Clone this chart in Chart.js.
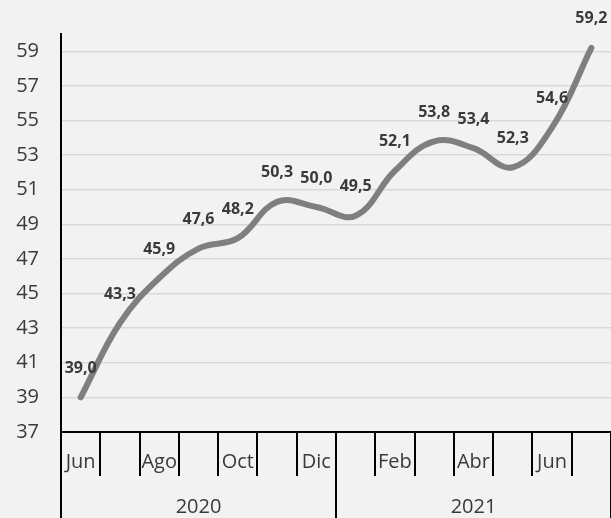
<!DOCTYPE html>
<html lang="es">
<head>
    <meta charset="UTF-8">
    <title>Serie mensual</title>
    <script src="https://cdn.jsdelivr.net/npm/chart.js"></script>
    <style>
        html, body { margin: 0; padding: 0; background: #f2f2f2; }
        .wrap { width: 611px; height: 518px; }
    </style>
</head>
<body>
<div class="wrap">
    <canvas id="grafico"></canvas>
</div>

<script>
    const meses = ['Jun', 'Jul', 'Ago', 'Sep', 'Oct', 'Nov', 'Dic', 'Ene', 'Feb', 'Mar', 'Abr', 'May', 'Jun', 'Jul'];
    const anios = ['2020', '2021'];
    const valores = [39.0, 43.3, 45.9, 47.6, 48.2, 50.3, 50.0, 49.5, 52.1, 53.8, 53.4, 52.3, 54.6, 59.2];
    const ticksY = [37, 39, 41, 43, 45, 47, 49, 51, 53, 55, 57, 59];

    const fuente = '"Open Sans", "DejaVu Sans", sans-serif';
    const gris = '#3a3a3a';

    // etiquetas de valor encima de cada punto
    const etiquetas = {
        id: 'etiquetas',
        afterDatasetsDraw(chart) {
            const ctx = chart.ctx;
            const meta = chart.getDatasetMeta(0);
            ctx.save();
            ctx.font = 'bold 16px ' + fuente;
            ctx.fillStyle = gris;
            ctx.textAlign = 'center';
            ctx.textBaseline = 'middle';
            meta.data.forEach((p, i) => {
                const txt = valores[i].toFixed(1).replace('.', ',');
                ctx.fillText(txt, p.x, p.y - 29);
            });
            ctx.restore();
        }
    };

    new Chart(document.getElementById('grafico'), {
        type: 'line',
        data: {
            labels: meses,
            datasets: [{
                data: valores,
                borderColor: '#7f7f7f',
                borderWidth: 6,
                borderCapStyle: 'round',
                tension: 0.4,
                pointRadius: 0,
                fill: false,
                clip: false
            }]
        },
        options: {
            responsive: true,
            maintainAspectRatio: false,
            animation: false,
            layout: { padding: { top: 31, right: 0, left: 0, bottom: 0 } },
            plugins: { legend: { display: false }, tooltip: { enabled: false } },
            scales: {
                x: {
                    type: 'category',
                    position: 'bottom',
                    offset: true,
                    grid: {
                        offset: true,
                        drawOnChartArea: false,
                        drawTicks: true,
                        tickLength: 44,
                        color: '#000',
                        lineWidth: 2
                    },
                    border: { color: '#000', width: 2 },
                    ticks: {
                        autoSkip: false,
                        maxRotation: 0,
                        padding: -26,
                        color: gris,
                        font: { family: fuente, size: 20 },
                        callback: (v, i) => (i % 2 === 0 ? meses[i] : '')
                    },
                    afterFit: (s) => { s.height = 44; }
                },
                x2: {
                    type: 'category',
                    position: 'bottom',
                    labels: anios,
                    offset: true,
                    grid: {
                        offset: true,
                        drawOnChartArea: false,
                        drawTicks: true,
                        tickLength: 44,
                        color: '#000',
                        lineWidth: 2
                    },
                    border: { display: false },
                    ticks: {
                        maxRotation: 0,
                        padding: -25,
                        color: gris,
                        font: { family: fuente, size: 20 }
                    },
                    afterFit: (s) => { s.height = 42; }
                },
                y: {
                    min: 37,
                    max: 60,
                    afterBuildTicks: (s) => { s.ticks = ticksY.map(v => ({ value: v })); },
                    grid: { color: '#d9d9d9', lineWidth: 1.5, drawTicks: false },
                    border: { color: '#000', width: 2 },
                    ticks: {
                        padding: 22,
                        color: gris,
                        font: { family: fuente, size: 20 }
                    },
                    afterFit: (s) => { s.width = 61; }
                }
            }
        },
        plugins: [etiquetas]
    });
</script>
</body>
</html>
